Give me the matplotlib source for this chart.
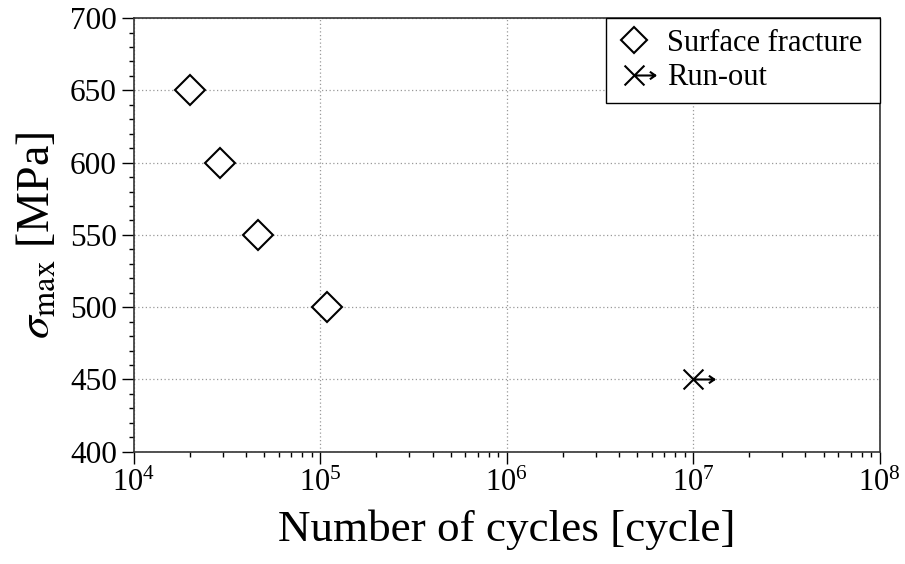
import numpy as np
import matplotlib
matplotlib.use("Agg")
import matplotlib.pyplot as plt
from matplotlib.path import Path
from matplotlib.lines import Line2D
from matplotlib.ticker import MultipleLocator, LogLocator

plt.rcParams['font.family'] = 'serif'
plt.rcParams['font.serif'] = ['Liberation Serif', 'DejaVu Serif']
plt.rcParams['mathtext.fontset'] = 'stix'

# S-N data
cycles_fracture = [2.0e4, 2.9e4, 4.65e4, 1.08e5]
stress_fracture = [650, 600, 550, 500]
cycles_runout = [1.0e7]
stress_runout = [450]

legend_labels = ['Surface fracture', 'Run-out']

# run-out symbol: a cross with an arrow pointing right
verts = [(-1, -1), (1, 1), (-1, 1), (1, -1),
         (0, 0), (2.1, 0),
         (1.55, 0.38), (2.1, 0), (1.55, -0.38)]
codes = [Path.MOVETO, Path.LINETO, Path.MOVETO, Path.LINETO,
         Path.MOVETO, Path.LINETO,
         Path.MOVETO, Path.LINETO, Path.LINETO]
runout_marker = Path(verts, codes)

fig = plt.figure(figsize=(9.05, 5.64), dpi=100)
ax = fig.add_axes([0.148, 0.199, 0.824, 0.769])

ax.plot(cycles_fracture, stress_fracture, linestyle='none', marker='D',
        markersize=14.8, markerfacecolor='white', markeredgecolor='black',
        markeredgewidth=1.5, zorder=3)
ax.plot(cycles_runout, stress_runout, linestyle='none', marker=runout_marker,
        markersize=30, markerfacecolor='none', markeredgecolor='black',
        markeredgewidth=1.5, zorder=3)

ax.set_xscale('log')
ax.set_xlim(1e4, 1e8)
ax.set_ylim(400, 700)
ax.yaxis.set_major_locator(MultipleLocator(50))
ax.yaxis.set_minor_locator(MultipleLocator(10))
ax.xaxis.set_major_locator(LogLocator(base=10, numticks=10))
ax.xaxis.set_minor_locator(LogLocator(base=10, subs=np.arange(2, 10), numticks=10))

ax.tick_params(which='major', direction='out', length=8.3, width=1.0, pad=4)
ax.tick_params(axis='y', which='major', labelsize=22.5)
ax.tick_params(axis='x', which='major', labelsize=22)
ax.tick_params(which='minor', direction='out', length=3.5, width=1.0)
ax.grid(True, which='major', linestyle=(0, (1, 2)), color='#999999', linewidth=0.9)

for s in ax.spines.values():
    s.set_linewidth(1.2)
    s.set_color('#333333')

ax.set_xlabel('Number of cycles [cycle]', fontsize=32.5, labelpad=8)
ax.set_ylabel(r'$\sigma_{\rm max}$ [MPa]', fontsize=33, labelpad=8)

handles = [
    Line2D([], [], linestyle='none', marker='D', markersize=13,
           markerfacecolor='white', markeredgecolor='black', markeredgewidth=1.5),
    Line2D([], [], linestyle='none', marker=runout_marker, markersize=30,
           markerfacecolor='none', markeredgecolor='black', markeredgewidth=1.5),
]
# legend box stretched from x0 to the right edge of the axes
x0 = (606 - 134) / 746
leg = ax.legend(handles, legend_labels, loc='upper right', fontsize=22,
                bbox_to_anchor=(x0, 0, 1 - x0, 1), mode='expand',
                frameon=True, fancybox=False, borderaxespad=0,
                handlelength=1.12, handletextpad=0.52, labelspacing=0.18,
                borderpad=0.35)
leg.get_frame().set_edgecolor('black')
leg.get_frame().set_linewidth(1.0)
leg.get_frame().set_alpha(1)

fig.savefig('out.png', dpi=100)
